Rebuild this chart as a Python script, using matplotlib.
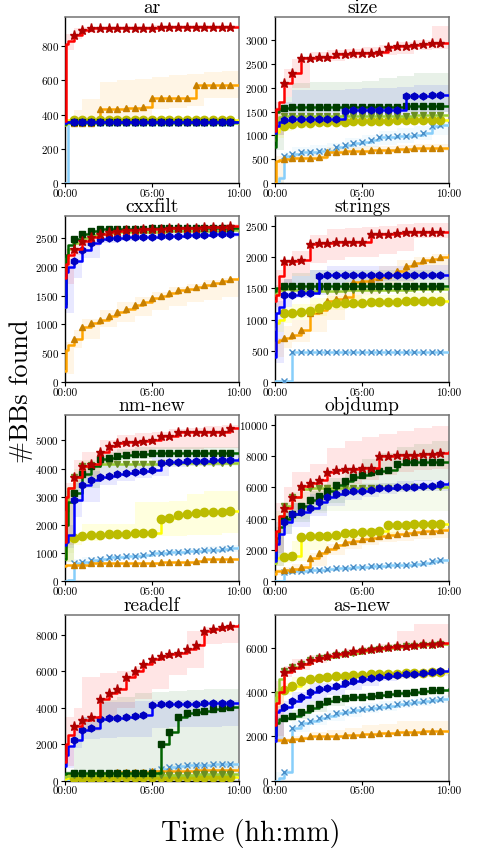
import matplotlib
matplotlib.use("Agg")
import matplotlib.pyplot as plt
from matplotlib.ticker import MultipleLocator

plt.rcParams['font.family'] = ['cmr10', 'DejaVu Serif']
plt.rcParams['mathtext.fontset'] = 'cm'
plt.rcParams['axes.formatter.use_mathtext'] = True

# time grid (hours) for the mean lines and for the min/max bands
hours = [0, 0.05, 0.2, 0.5, 1, 1.5, 2, 2.5, 3, 3.5, 4, 4.5, 5, 5.5, 6, 6.5, 7, 7.5, 8, 8.5, 9, 9.5, 10]
band_hours = [0, 0.5, 1, 2, 3, 4, 5, 6, 7, 8, 9, 10]

# series order: red/star, orange/tri, blue/hex, darkgreen/square, olive/vtri, yellow/dot, lightblue/x
# ---------------- ar
ar_mean = [
    [360, 815, 830, 865, 895, 905, 907, 907, 908, 908, 908, 909, 909, 910, 910, 910, 911, 911, 912, 912, 913, 913, 914],
    [350, 350, 350, 350, 350, 350, 435, 435, 435, 440, 440, 445, 500, 500, 500, 500, 500, 575, 575, 575, 575, 575, 575],
    [350, 358, 358, 358, 358, 358, 358, 358, 358, 358, 358, 358, 358, 358, 358, 358, 358, 358, 358, 358, 358, 358, 358],
    [345, 355, 355, 355, 355, 355, 355, 355, 355, 355, 355, 355, 355, 355, 355, 355, 355, 355, 355, 355, 355, 355, 355],
    [340, 352, 352, 352, 352, 352, 352, 352, 352, 352, 352, 352, 352, 352, 352, 352, 352, 352, 352, 352, 352, 352, 352],
    [365, 366, 366, 366, 366, 366, 366, 366, 366, 366, 366, 366, 366, 366, 366, 366, 366, 366, 366, 366, 366, 366, 366],
    [0, 0, 350, 350, 350, 350, 350, 350, 350, 350, 350, 350, 350, 350, 350, 350, 350, 350, 350, 350, 350, 350, 350],
]
ar_lo = [
    [780, 840, 880, 895, 900, 902, 903, 904, 905, 906, 906, 906],
    [350, 350, 350, 350, 350, 350, 435, 440, 450, 495, 495, 495],
    None, None, None, None, None,
]
ar_hi = [
    [870, 905, 915, 918, 920, 920, 921, 922, 923, 924, 925, 925],
    [350, 430, 490, 590, 600, 610, 620, 630, 640, 650, 655, 655],
    None, None, None, None, None,
]

# ---------------- size
size_mean = [
    [1100, 1550, 1700, 2100, 2300, 2620, 2630, 2640, 2640, 2700, 2700, 2720, 2730, 2735, 2740, 2860, 2870, 2880, 2900, 2910, 2930, 2935, 2945],
    [0, 460, 480, 500, 520, 520, 525, 540, 650, 660, 670, 675, 680, 685, 690, 700, 720, 725, 730, 730, 735, 740, 740],
    [1050, 1200, 1280, 1320, 1340, 1340, 1345, 1345, 1350, 1350, 1520, 1525, 1530, 1530, 1535, 1535, 1540, 1830, 1835, 1835, 1840, 1840, 1840],
    [750, 1500, 1550, 1580, 1585, 1585, 1590, 1590, 1590, 1590, 1590, 1590, 1595, 1595, 1600, 1600, 1600, 1620, 1620, 1620, 1620, 1620, 1620],
    [900, 1300, 1380, 1400, 1400, 1400, 1400, 1405, 1405, 1405, 1410, 1410, 1410, 1410, 1410, 1415, 1415, 1415, 1420, 1420, 1420, 1420, 1420],
    [1000, 1080, 1150, 1200, 1240, 1250, 1270, 1275, 1280, 1285, 1290, 1295, 1300, 1300, 1305, 1310, 1315, 1320, 1320, 1325, 1330, 1330, 1330],
    [0, 0, 100, 560, 600, 650, 660, 670, 680, 750, 800, 830, 860, 900, 970, 975, 980, 990, 1000, 1050, 1200, 1220, 1240],
]
size_lo = [
    [1000, 1800, 2000, 2550, 2560, 2600, 2650, 2680, 2700, 2800, 2820, 2830],
    [0, 420, 460, 480, 560, 600, 620, 640, 660, 670, 680, 680],
    [1000, 1250, 1260, 1270, 1280, 1300, 1350, 1400, 1400, 1450, 1500, 1500],
    [700, 1450, 1460, 1480, 1480, 1490, 1500, 1500, 1500, 1500, 1500, 1500],
    None,
    [950, 1100, 1150, 1200, 1210, 1220, 1230, 1240, 1250, 1260, 1270, 1270],
    [0, 450, 500, 550, 600, 700, 750, 800, 850, 900, 1000, 1100],
]
size_hi = [
    [1700, 2400, 2600, 2750, 2800, 2820, 2850, 2900, 2950, 3000, 3300, 3320],
    [560, 560, 580, 600, 760, 760, 770, 780, 800, 810, 820, 820],
    [1400, 1700, 1950, 1950, 1960, 1980, 2000, 2000, 2010, 2050, 2050, 2050],
    [1600, 1800, 2100, 2120, 2120, 2120, 2130, 2200, 2250, 2300, 2300, 2320],
    None,
    [1150, 1300, 1330, 1340, 1350, 1360, 1370, 1380, 1390, 1400, 1400, 1410],
    [150, 650, 750, 800, 850, 950, 1000, 1100, 1150, 1200, 1300, 1300],
]

# ---------------- cxxfilt
cxxfilt_mean = [
    [1800, 2050, 2200, 2300, 2440, 2520, 2570, 2600, 2620, 2630, 2640, 2645, 2650, 2655, 2660, 2665, 2670, 2675, 2680, 2685, 2690, 2695, 2700],
    [200, 550, 650, 750, 950, 1020, 1080, 1150, 1220, 1270, 1330, 1390, 1450, 1500, 1540, 1590, 1620, 1650, 1680, 1720, 1750, 1780, 1800],
    [1300, 1900, 2000, 2100, 2280, 2400, 2470, 2490, 2500, 2505, 2510, 2515, 2520, 2525, 2530, 2535, 2540, 2545, 2550, 2555, 2560, 2565, 2570],
    [1350, 2200, 2380, 2480, 2560, 2620, 2650, 2655, 2655, 2655, 2658, 2658, 2660, 2660, 2660, 2660, 2662, 2662, 2662, 2664, 2664, 2665, 2665],
    [1300, 2150, 2300, 2400, 2500, 2550, 2570, 2585, 2590, 2595, 2600, 2600, 2605, 2605, 2610, 2610, 2615, 2615, 2620, 2620, 2620, 2625, 2625],
    None,
    None,
]
cxxfilt_lo = [
    [1700, 2200, 2350, 2520, 2580, 2610, 2620, 2630, 2640, 2650, 2660, 2670],
    [150, 600, 750, 950, 1050, 1150, 1250, 1320, 1380, 1430, 1480, 1510],
    [1200, 1800, 2150, 2400, 2450, 2470, 2480, 2490, 2500, 2510, 2520, 2530],
    None, None, None, None,
]
cxxfilt_hi = [
    [2300, 2400, 2520, 2620, 2660, 2680, 2690, 2700, 2710, 2720, 2730, 2740],
    [700, 900, 1100, 1250, 1380, 1480, 1560, 1640, 1700, 1760, 1800, 1830],
    [2100, 2250, 2400, 2520, 2550, 2560, 2570, 2580, 2590, 2600, 2610, 2620],
    None, None, None, None,
]

# ---------------- strings
strings_mean = [
    [1300, 1400, 1700, 1930, 1940, 1950, 2210, 2220, 2230, 2240, 2240, 2240, 2245, 2360, 2360, 2365, 2380, 2400, 2400, 2400, 2400, 2400, 2400],
    [500, 650, 680, 700, 760, 830, 1100, 1150, 1300, 1330, 1360, 1600, 1610, 1650, 1680, 1720, 1780, 1850, 1900, 1950, 1970, 2000, 2030],
    [400, 1100, 1200, 1390, 1400, 1420, 1420, 1700, 1705, 1710, 1710, 1710, 1712, 1712, 1715, 1715, 1715, 1718, 1718, 1720, 1720, 1720, 1720],
    [1450, 1500, 1510, 1530, 1540, 1540, 1540, 1540, 1540, 1540, 1540, 1540, 1540, 1540, 1540, 1540, 1540, 1540, 1540, 1540, 1540, 1540, 1540],
    [1400, 1460, 1480, 1490, 1480, 1460, 1450, 1455, 1460, 1460, 1465, 1465, 1470, 1470, 1475, 1475, 1480, 1480, 1485, 1485, 1490, 1490, 1490],
    [850, 950, 1000, 1100, 1110, 1120, 1130, 1180, 1230, 1260, 1265, 1270, 1270, 1275, 1280, 1280, 1285, 1290, 1290, 1295, 1300, 1300, 1300],
    [20, 20, 20, 20, 490, 490, 490, 490, 490, 490, 490, 490, 490, 490, 490, 490, 490, 490, 490, 490, 490, 490, 490],
]
strings_lo = [
    [1200, 1500, 1700, 1900, 1950, 2000, 2000, 2050, 2100, 2300, 2300, 2300],
    [400, 550, 650, 800, 1000, 1200, 1400, 1500, 1600, 1700, 1800, 1850],
    [300, 1200, 1350, 1400, 1550, 1600, 1600, 1620, 1620, 1630, 1630, 1640],
    [1400, 1450, 1460, 1470, 1470, 1470, 1480, 1480, 1480, 1480, 1480, 1480],
    None,
    [800, 950, 1000, 1050, 1150, 1200, 1200, 1220, 1230, 1240, 1250, 1250],
    None,
]
strings_hi = [
    [1800, 1950, 2100, 2350, 2450, 2470, 2480, 2500, 2520, 2550, 2550, 2550],
    [700, 900, 1000, 1250, 1450, 1600, 1750, 1850, 1950, 2000, 2050, 2100],
    [1300, 1650, 1700, 1800, 1850, 1850, 1850, 1860, 1860, 1870, 1870, 1880],
    [1550, 1650, 1750, 1800, 1800, 1800, 1800, 1800, 1800, 1800, 1800, 1800],
    None,
    [1000, 1200, 1250, 1350, 1380, 1400, 1400, 1400, 1420, 1420, 1430, 1430],
    None,
]

# ---------------- nm-new
nm_mean = [
    [1400, 3000, 3300, 3700, 4100, 4150, 4580, 4800, 4900, 4930, 4950, 4980, 5000, 5140, 5150, 5300, 5300, 5300, 5300, 5300, 5310, 5420, 5420],
    [550, 580, 590, 600, 600, 650, 650, 650, 650, 660, 660, 670, 670, 680, 700, 700, 700, 720, 800, 800, 800, 800, 800],
    [1300, 1400, 1650, 2900, 3400, 3600, 3700, 3750, 3800, 3850, 3880, 3900, 3950, 4200, 4220, 4235, 4250, 4265, 4280, 4290, 4300, 4315, 4330],
    [800, 2000, 2800, 3150, 3800, 4100, 4350, 4380, 4450, 4480, 4500, 4520, 4540, 4545, 4550, 4550, 4550, 4550, 4550, 4550, 4550, 4550, 4550],
    [1200, 2500, 3300, 3700, 4100, 4140, 4150, 4150, 4150, 4150, 4150, 4150, 4150, 4180, 4180, 4185, 4190, 4190, 4195, 4200, 4200, 4210, 4210],
    [800, 1400, 1480, 1550, 1620, 1650, 1660, 1670, 1680, 1690, 1700, 1710, 1720, 2200, 2250, 2350, 2400, 2430, 2450, 2460, 2470, 2480, 2480],
    [0, 0, 50, 650, 700, 750, 800, 860, 880, 890, 900, 950, 1000, 1020, 1050, 1060, 1080, 1090, 1100, 1120, 1150, 1200, 1230],
]
nm_lo = [
    [1300, 3300, 3700, 4200, 4500, 4600, 4700, 4700, 4700, 4720, 4740, 4750],
    None,
    [1200, 2300, 2800, 3400, 3550, 3650, 3750, 4050, 4100, 4100, 4150, 4150],
    [700, 2800, 3300, 4100, 4300, 4350, 4400, 4420, 4430, 4430, 4430, 4430],
    [1000, 3200, 3600, 3800, 3900, 4000, 4050, 4100, 4100, 4100, 4100, 4100],
    [700, 1300, 1450, 1500, 1500, 1550, 1600, 1600, 1650, 1650, 1700, 1700],
    [0, 500, 600, 700, 800, 850, 900, 950, 1000, 1000, 1050, 1100],
]
nm_hi = [
    [3500, 4300, 4600, 5000, 5200, 5250, 5300, 5400, 5450, 5500, 5550, 5600],
    None,
    [2000, 3500, 3900, 4100, 4150, 4200, 4400, 4400, 4450, 4450, 4480, 4500],
    [3200, 3700, 4200, 4600, 4700, 4750, 4750, 4780, 4780, 4780, 4780, 4780],
    [3300, 4000, 4300, 4300, 4300, 4300, 4300, 4300, 4300, 4300, 4300, 4300],
    [1500, 1700, 2050, 2050, 2050, 2800, 2800, 2850, 3100, 3200, 3200, 3200],
    [100, 800, 850, 900, 950, 1000, 1100, 1150, 1200, 1250, 1300, 1300],
]

# ---------------- objdump
objdump_mean = [
    [2000, 3200, 4200, 4700, 5400, 6100, 6300, 6500, 7000, 7100, 7150, 7200, 7250, 7250, 8000, 8000, 8050, 8080, 8100, 8120, 8150, 8200, 8250],
    [500, 650, 680, 700, 800, 900, 1500, 1800, 2100, 2300, 2500, 2600, 2700, 2800, 2900, 2950, 3000, 3080, 3150, 3200, 3250, 3300, 3350],
    [1300, 2400, 3000, 3800, 4300, 4450, 4700, 5100, 5400, 5600, 5700, 5750, 5800, 5850, 5950, 5980, 6000, 6020, 6050, 6070, 6100, 6200, 6300],
    [1500, 2800, 3500, 4000, 4300, 4800, 5200, 5450, 5750, 6150, 6400, 6650, 6800, 7000, 7050, 7100, 7500, 7600, 7620, 7620, 7620, 7620, 7620],
    [1200, 2500, 4200, 4800, 5400, 5900, 5950, 5950, 5950, 5950, 5950, 5950, 5960, 5960, 5980, 5980, 5990, 5990, 6000, 6000, 6000, 6000, 6000],
    [1200, 1500, 1520, 1550, 1600, 2850, 2870, 2880, 2900, 2950, 3100, 3120, 3150, 3180, 3200, 3600, 3620, 3630, 3640, 3650, 3650, 3650, 3650],
    [0, 0, 0, 600, 650, 650, 700, 750, 800, 830, 850, 900, 950, 980, 1000, 1020, 1050, 1080, 1100, 1150, 1300, 1350, 1400],
]
objdump_lo = [
    [1800, 4000, 4500, 5000, 5800, 6200, 6500, 6800, 7000, 7100, 7150, 7200],
    [400, 550, 650, 1000, 1700, 2100, 2300, 2500, 2600, 2700, 2800, 2900],
    [1000, 3000, 3500, 4200, 4800, 5200, 5400, 5600, 5700, 5750, 5800, 5850],
    [1300, 3000, 3800, 4500, 5000, 5500, 5800, 6000, 6200, 6400, 6500, 6500],
    [1000, 3500, 4000, 4400, 4500, 4500, 4500, 4500, 4500, 4500, 4500, 4500],
    [1000, 1200, 1300, 2000, 2500, 2700, 2800, 2900, 3200, 3300, 3350, 3400],
    [0, 450, 500, 600, 650, 700, 800, 850, 900, 950, 1100, 1200],
]
objdump_hi = [
    [5000, 6000, 7000, 7500, 8500, 9000, 9200, 9400, 9600, 9800, 9900, 10000],
    [800, 900, 1100, 1800, 2400, 2800, 3000, 3150, 3250, 3350, 3450, 3500],
    [3800, 4500, 5000, 5600, 5900, 6100, 6200, 6300, 6400, 6450, 6500, 6550],
    [3500, 4500, 5000, 5800, 6600, 7200, 7800, 8200, 8600, 8800, 9000, 9200],
    [4500, 5000, 5700, 6200, 6250, 6300, 6300, 6300, 6300, 6300, 6300, 6300],
    [1700, 1900, 2600, 3100, 3200, 3300, 3400, 3500, 3800, 3850, 3900, 3950],
    [100, 750, 800, 850, 950, 1000, 1100, 1150, 1200, 1300, 1450, 1500],
]

# ---------------- readelf
readelf_mean = [
    [1000, 2000, 2500, 3000, 3300, 3500, 4500, 4800, 5050, 5700, 6000, 6400, 6650, 6850, 6950, 7000, 7200, 7450, 8200, 8300, 8400, 8500, 8550],
    [250, 270, 300, 330, 380, 400, 420, 430, 450, 460, 470, 490, 500, 510, 520, 540, 550, 560, 570, 580, 590, 600, 610],
    [800, 1400, 1900, 2200, 2800, 2900, 3400, 3430, 3450, 3500, 3550, 3580, 4150, 4180, 4200, 4210, 4220, 4225, 4230, 4240, 4250, 4250, 4260],
    [350, 400, 400, 400, 400, 400, 400, 400, 400, 400, 400, 400, 400, 2000, 2650, 3500, 3700, 3750, 3800, 3950, 4000, 4030, 4050],
    [200, 250, 280, 300, 300, 300, 300, 300, 310, 310, 310, 320, 320, 320, 330, 330, 330, 340, 340, 340, 350, 350, 350],
    [100, 130, 150, 160, 170, 170, 170, 180, 180, 180, 180, 180, 190, 190, 190, 190, 190, 200, 200, 200, 200, 200, 200],
    [0, 50, 100, 150, 180, 200, 230, 260, 300, 330, 370, 420, 550, 650, 750, 800, 850, 860, 880, 890, 900, 910, 920],
]
readelf_lo = [
    [800, 2500, 2700, 3300, 4000, 4500, 5000, 5800, 6200, 7500, 7550, 7600],
    None,
    [700, 1800, 2300, 2350, 2400, 2400, 2900, 2950, 2950, 2950, 3000, 3000],
    [0, 0, 0, 0, 0, 0, 0, 0, 0, 0, 0, 0],
    None, None, None,
]
readelf_hi = [
    [3500, 4000, 5700, 5900, 6000, 6300, 6800, 7000, 8200, 8400, 8500, 8600],
    None,
    [1800, 2800, 3500, 4300, 4300, 4350, 4400, 4400, 4400, 4400, 4400, 4400],
    [500, 2500, 3500, 4400, 4600, 4800, 4850, 4900, 4950, 5000, 5050, 5100],
    None, None, None,
]

# ---------------- as-new
asnew_mean = [
    [2500, 3500, 4000, 4900, 5100, 5300, 5450, 5550, 5650, 5750, 5800, 5850, 5900, 5950, 6000, 6050, 6100, 6120, 6150, 6180, 6200, 6220, 6250],
    [1850, 1850, 1850, 1850, 1900, 1950, 2000, 2000, 2000, 2030, 2050, 2080, 2100, 2120, 2150, 2170, 2200, 2210, 2220, 2230, 2250, 2250, 2250],
    [1800, 3100, 3200, 3350, 3600, 3800, 4000, 4150, 4200, 4300, 4400, 4500, 4600, 4650, 4700, 4750, 4800, 4820, 4850, 4880, 4900, 4950, 5050],
    [2000, 2600, 2800, 2850, 2950, 3100, 3300, 3450, 3600, 3700, 3750, 3780, 3800, 3850, 3900, 3920, 3950, 3980, 4000, 4050, 4100, 4120, 4150],
    [3000, 4000, 4600, 4950, 5150, 5300, 5450, 5550, 5600, 5700, 5750, 5800, 5850, 5900, 5950, 6000, 6050, 6080, 6100, 6130, 6150, 6180, 6200],
    [3500, 3800, 4000, 4100, 4300, 4500, 4600, 4650, 4700, 4720, 4750, 4780, 4800, 4820, 4850, 4850, 4850, 4870, 4880, 4890, 4900, 4920, 4950],
    [0, 0, 100, 400, 2400, 2600, 2700, 2850, 2950, 3050, 3100, 3200, 3250, 3300, 3350, 3400, 3450, 3500, 3550, 3600, 3650, 3700, 3750],
]
asnew_lo = [
    [2000, 4700, 5000, 5350, 5550, 5700, 5800, 5900, 6000, 6050, 6100, 6150],
    [1750, 1800, 1850, 1900, 1950, 2000, 2050, 2100, 2150, 2150, 2200, 2200],
    [1700, 3000, 3300, 3600, 3900, 4100, 4300, 4500, 4600, 4700, 4750, 4800],
    [1900, 2700, 2800, 3100, 3400, 3600, 3700, 3800, 3850, 3900, 4000, 4050],
    None,
    [3300, 3900, 4100, 4500, 4600, 4650, 4700, 4750, 4750, 4800, 4800, 4850],
    [0, 350, 2200, 2500, 2700, 2900, 3050, 3150, 3300, 3400, 3500, 3600],
]
asnew_hi = [
    [4500, 5200, 5500, 5700, 5800, 5950, 6050, 6200, 6800, 7100, 7100, 7150],
    [1950, 1950, 2000, 2200, 2300, 2400, 2500, 2550, 2700, 2700, 2700, 2750],
    [3400, 3600, 4000, 4400, 4400, 4400, 4700, 4800, 4900, 4950, 5000, 5150],
    [2900, 3000, 3200, 3600, 3800, 3900, 3950, 4000, 4050, 4100, 4150, 4200],
    None,
    [4200, 4400, 4700, 4800, 4850, 4850, 4900, 4950, 4950, 5000, 5000, 5050],
    [400, 500, 2700, 3000, 3200, 3400, 3500, 3600, 3700, 3800, 3900, 3950],
]

panel_names = ['ar', 'size', 'cxxfilt', 'strings', 'nm-new', 'objdump', 'readelf', 'as-new']
panel_means = [ar_mean, size_mean, cxxfilt_mean, strings_mean, nm_mean, objdump_mean, readelf_mean, asnew_mean]
panel_los = [ar_lo, size_lo, cxxfilt_lo, strings_lo, nm_lo, objdump_lo, readelf_lo, asnew_lo]
panel_his = [ar_hi, size_hi, cxxfilt_hi, strings_hi, nm_hi, objdump_hi, readelf_hi, asnew_hi]
y_tops = [970, 3480, 2870, 2650, 5880, 10600, 9100, 7520]
y_steps = [200, 500, 500, 500, 1000, 2000, 2000, 2000]

x_ticks = [0, 5, 10]
x_labels = ['00:00', '05:00', '10:00']

# styles
line_colors = ['#ff0000', '#ffa500', '#0000ff', '#006400', '#9acd32', '#ffff00', '#87cefa']
mark_colors = ['#b00000', '#c88000', '#0000c0', '#003c00', '#6b8e23', '#bcbc00', '#4a8fc8']
markers = ['*', '^', 'h', 's', 'v', 'o', 'x']
msizes = [6.5, 5, 5, 4.5, 5, 6, 5]
zorders = [9, 4, 8, 7, 6, 5, 3]
band_alpha = [0.1, 0.1, 0.09, 0.09, 0.09, 0.13, 0.1]
mark_idx = [i for i, h in enumerate(hours) if 0.5 <= h <= 9.5 and (h * 2) % 1 == 0]

fig, axes = plt.subplots(4, 2, figsize=(5.04, 8.55), dpi=100)
fig.subplots_adjust(left=0.129, right=0.891, top=0.980, bottom=0.087, wspace=0.207, hspace=0.20)

for k, ax in enumerate(axes.flat):
    means, los, his = panel_means[k], panel_los[k], panel_his[k]
    for i in range(7):
        if means[i] is None:
            continue
        if los[i] is not None:
            ax.fill_between(band_hours, los[i], his[i], step='post', color=line_colors[i],
                            alpha=band_alpha[i], lw=0, zorder=1)
        ax.plot(hours, means[i], drawstyle='steps-post', color=line_colors[i], lw=1.8,
                marker=markers[i], markevery=mark_idx, ms=msizes[i],
                mfc=mark_colors[i], mec=mark_colors[i], mew=1.0, zorder=zorders[i])

    ax.set_xlim(0, 10)
    ax.set_ylim(0, y_tops[k])
    ax.set_xticks(x_ticks)
    ax.set_xticklabels(x_labels)
    ax.yaxis.set_major_locator(MultipleLocator(y_steps[k]))
    ax.tick_params(labelsize=8, length=3, width=0.8, pad=1.5)
    ax.set_title(panel_names[k], fontsize=14, pad=2)
    for side in ['top', 'right']:
        ax.spines[side].set_color('0.45')
        ax.spines[side].set_linewidth(1.1)
    for side in ['left', 'bottom']:
        ax.spines[side].set_color('black')
        ax.spines[side].set_linewidth(1.0)

fig.text(0.042, 0.543, '#BBs found', rotation=90, ha='center', va='center', fontsize=19)
fig.text(0.498, 0.025, 'Time (hh:mm)', ha='center', va='center', fontsize=20)

fig.savefig('out.png', dpi=100)
